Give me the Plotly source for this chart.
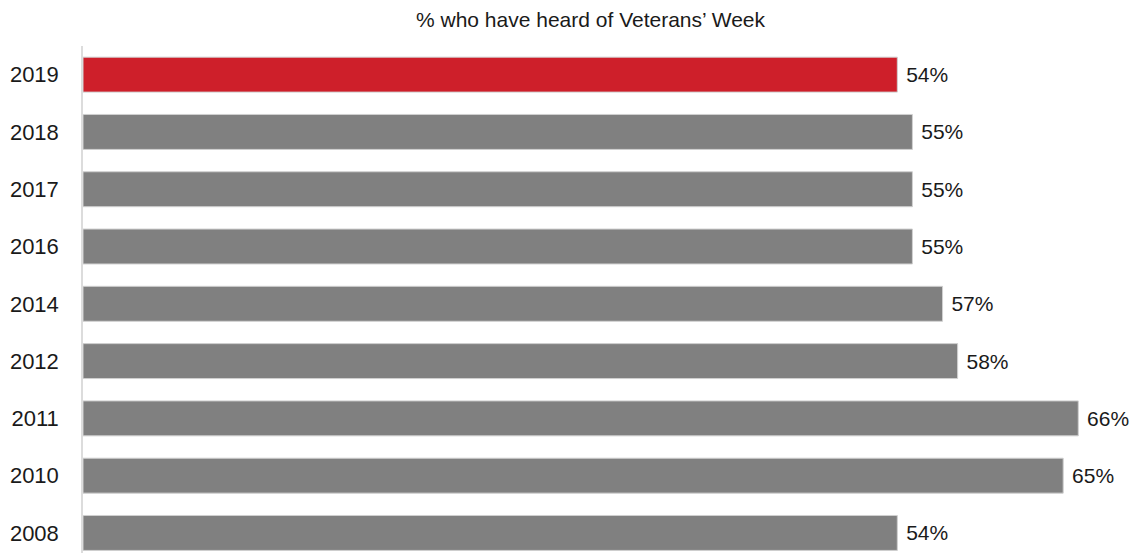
import plotly.graph_objects as go

years = ["2019", "2018", "2017", "2016", "2014", "2012", "2011", "2010", "2008"]
values = [54, 55, 55, 55, 57, 58, 66, 65, 54]
labels = [f" {v}%" for v in values]
colors = ["#CE1F2A"] + ["#808080"] * 8
title = "% who have heard of Veterans’ Week"

fig = go.Figure(go.Bar(
    x=values, y=years, orientation="h",
    marker=dict(color=colors, line=dict(color="#d0d0d0", width=1)),
    width=0.61,
    text=labels, textposition="outside", cliponaxis=False,
    textfont=dict(size=21, color="#1a1a1a"),
    hoverinfo="skip",
))

fig.update_layout(
    width=1133, height=553,
    margin=dict(l=83, r=0, t=46, b=0),
    plot_bgcolor="white", paper_bgcolor="white",
    font=dict(family="Liberation Sans, Arial, sans-serif", color="#1a1a1a"),
    showlegend=False,
    annotations=[dict(text=title, x=(591 - 83) / 1050, y=1 + (46 - 20) / 507,
                      xref="paper", yref="paper",
                      showarrow=False, font=dict(size=21, color="#1a1a1a"),
                      xanchor="center", yanchor="middle")],
)

fig.update_xaxes(range=[0, 1050 / 15.08], visible=False, showgrid=False)
fig.update_yaxes(
    type="category", range=[8.35, -0.5],
    showline=True, linecolor="#dcdcdc", linewidth=1.5,
    showgrid=False, zeroline=False,
    ticks="", ticklabelstandoff=18,
    tickfont=dict(size=22, color="#1a1a1a"),
)

fig.write_html("out.html", config={"displayModeBar": False},
               post_script="document.body.style.margin='0';document.body.style.overflow='hidden';")
